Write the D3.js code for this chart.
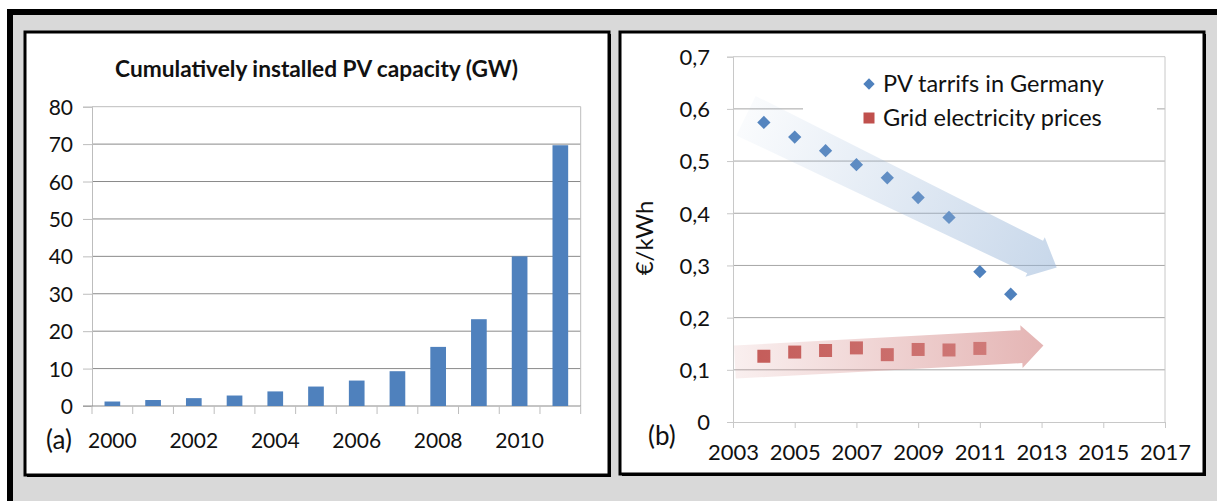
<!DOCTYPE html>
<html>
<head>
<meta charset="utf-8">
<script src="https://cdn.jsdelivr.net/npm/d3@7"></script>
<style>
  html, body { margin: 0; padding: 0; background: #ffffff; }
  svg { display: block; }
  text { font-family: Lato, "Open Sans", "Liberation Sans", sans-serif; fill: #111; }
</style>
</head>
<body>
<svg id="chart" width="1217" height="501"></svg>
<script>
// ---------------- DATA ----------------
const capacityYears = ["2000","2001","2002","2003","2004","2005","2006","2007","2008","2009","2010","2011"];
const capacityGW    = [1.2, 1.6, 2.1, 2.8, 3.9, 5.2, 6.8, 9.3, 15.8, 23.2, 40.0, 69.7];
const capacityTicks = [0, 10, 20, 30, 40, 50, 60, 70, 80];
const capacityTitle = "Cumulatively installed PV capacity (GW)";

const tariffYears   = [2004, 2005, 2006, 2007, 2008, 2009, 2010, 2011, 2012];
const pvTariffs     = [0.574, 0.546, 0.520, 0.493, 0.468, 0.430, 0.392, 0.288, 0.245];
const gridYears     = [2004, 2005, 2006, 2007, 2008, 2009, 2010, 2011];
const gridPrices    = [0.126, 0.134, 0.137, 0.142, 0.129, 0.139, 0.138, 0.141];
const priceTicks    = [0, 0.1, 0.2, 0.3, 0.4, 0.5, 0.6, 0.7];
const yearTicks     = [2003, 2005, 2007, 2009, 2011, 2013, 2015, 2017];
const seriesNames   = ["PV tarrifs in Germany", "Grid electricity prices"];
const yTitleB       = "€/kWh";
// trend arrows, in data units: [startYear, startValue, tipYear, tipValue]
const pvTrend   = [2003.42, 0.587, 2013.49, 0.296];
const gridTrend = [2003.06, 0.1148, 2013.06, 0.1467];

// ---------------- SETUP ----------------
const svg = d3.select("#chart");
const BLUE = "#4f81bd", RED = "#c0504d";
const locale = d3.formatLocale({decimal: ",", thousands: ".", grouping: [3], currency: ["", "€"]});
const fmtB = locale.format(".1~f");

function fitText(sel, target) {
  const w = sel.node().getComputedTextLength();
  const fs = parseFloat(sel.attr("font-size"));
  if (w > 0) sel.attr("font-size", fs * target / w);
  return sel;
}

// background frame
svg.append("rect").attr("x", 7).attr("y", 9).attr("width", 1300).attr("height", 600).attr("fill", "#d9d9d9");
svg.append("rect").attr("x", 7).attr("y", 9).attr("width", 1210).attr("height", 6).attr("fill", "#000");
svg.append("rect").attr("x", 7).attr("y", 9).attr("width", 6).attr("height", 500).attr("fill", "#000");

function panel(x0, y0, x1, y1) {
  svg.append("rect").attr("x", x0 + 2).attr("y", y0 + 2).attr("width", x1 - x0).attr("height", y1 - y0).attr("fill", "#000");
  svg.append("rect").attr("x", x0).attr("y", y0).attr("width", x1 - x0).attr("height", y1 - y0)
    .attr("fill", "#fff").attr("stroke", "#000").attr("stroke-width", 3);
}
panel(25, 32, 609, 475);
panel(620, 32, 1204, 474);

// ---------------- CHART A ----------------
{
  const L = 92, R = 580.7, T = 106.7, B = 406;
  const x = d3.scaleBand().domain(capacityYears).range([L, R]).paddingInner(0.615).paddingOuter(0.3075);
  const y = d3.scaleLinear().domain([0, 80]).range([B, T]);
  const g = svg.append("g");

  // gridlines
  g.selectAll("line.grid").data(capacityTicks.filter(d => d > 0 && d < 80)).join("line")
    .attr("x1", L).attr("x2", R).attr("y1", d => y(d)).attr("y2", d => y(d))
    .attr("stroke", "#8a8a8a").attr("stroke-width", 1);
  // plot border (top/right)
  g.append("path").attr("d", `M${L},${y(80)}H${R}V${B}`).attr("fill", "none").attr("stroke", "#bdbdbd");

  // y axis
  const yAx = g.append("g").attr("transform", `translate(${L},0)`)
    .call(d3.axisLeft(y).tickValues(capacityTicks).tickSize(9).tickPadding(10));
  yAx.select(".domain").attr("stroke", "#bdbdbd");
  yAx.selectAll(".tick line").attr("stroke", "#bdbdbd");
  yAx.selectAll(".tick text").attr("font-size", 21).attr("font-family", "Lato").attr("fill", "#111").attr("dy", "0.36em");

  // x axis line + boundary ticks
  g.append("line").attr("x1", L - 9).attr("x2", R).attr("y1", B).attr("y2", B).attr("stroke", "#8a8a8a");
  const bounds = d3.range(capacityYears.length + 1).map(i => L + i * x.step());
  g.selectAll("line.xt").data(bounds).join("line")
    .attr("x1", d => d).attr("x2", d => d).attr("y1", B).attr("y2", B + 8).attr("stroke", "#bdbdbd");
  g.selectAll("text.xl").data(capacityYears.filter((d, i) => i % 2 === 0)).join("text")
    .attr("x", d => x(d) + x.bandwidth() / 2).attr("y", 448)
    .attr("text-anchor", "middle").attr("font-size", 21).text(d => d);

  // bars
  g.selectAll("rect.bar").data(capacityYears).join("rect")
    .attr("x", d => x(d)).attr("width", x.bandwidth())
    .attr("y", (d, i) => y(capacityGW[i])).attr("height", (d, i) => B - y(capacityGW[i]))
    .attr("fill", BLUE);

  // title
  const t = svg.append("text").attr("x", 316.5).attr("y", 77).attr("text-anchor", "middle")
    .attr("font-weight", "bold").attr("font-size", 18).text(capacityTitle);
  fitText(t, 403);
  svg.append("text").attr("x", 46).attr("y", 449).attr("font-size", 26).text("(a)");
}

// ---------------- CHART B ----------------
{
  const L = 733, R = 1165, T = 56.7, B = 422;
  const x = d3.scaleLinear().domain([2003, 2017]).range([L, R]);
  const y = d3.scaleLinear().domain([0, 0.7]).range([B, T]);
  const g = svg.append("g");

  g.selectAll("line.grid").data(priceTicks.filter(d => d > 0 && d < 0.7)).join("line")
    .attr("x1", L).attr("x2", R).attr("y1", d => y(d)).attr("y2", d => y(d))
    .attr("stroke", "#a6a6a6").attr("stroke-width", 1);
  g.append("path").attr("d", `M${L},${y(0.7)}H${R}V${B}`).attr("fill", "none").attr("stroke", "#c8c8c8");

  const yAx = g.append("g").attr("transform", `translate(${L},0)`)
    .call(d3.axisLeft(y).tickValues(priceTicks).tickSize(6).tickFormat(fmtB).tickPadding(17));
  yAx.select(".domain").attr("stroke", "#c8c8c8");
  yAx.selectAll(".tick line").attr("stroke", "#c8c8c8");
  yAx.selectAll(".tick text").attr("font-size", 22).attr("font-family", "Lato").attr("fill", "#111").attr("dy", "0.36em");

  const xAx = g.append("g").attr("transform", `translate(0,${B})`)
    .call(d3.axisBottom(x).tickValues(yearTicks).tickSize(6).tickFormat(d3.format("d")).tickPadding(16));
  xAx.select(".domain").attr("stroke", "#c8c8c8");
  xAx.selectAll(".tick line").attr("stroke", "#c8c8c8");
  xAx.selectAll(".tick text").attr("font-size", 22).attr("font-family", "Lato").attr("fill", "#111");

  // markers
  const diamond = d3.symbol().type(d3.symbolSquare).size(88);
  g.selectAll("path.pv").data(tariffYears).join("path")
    .attr("d", diamond)
    .attr("transform", (d, i) => `translate(${x(d)},${y(pvTariffs[i])}) rotate(45)`)
    .attr("fill", BLUE);
  g.selectAll("rect.grid").data(gridYears).join("rect")
    .attr("x", d => x(d) - 6.5).attr("y", (d, i) => y(gridPrices[i]) - 6.5)
    .attr("width", 13).attr("height", 13).attr("fill", RED);

  // legend
  const lg = g.append("g");
  lg.append("rect").attr("x", 803).attr("y", 66).attr("width", 354).attr("height", 68).attr("fill", "#fff");
  lg.append("path").attr("d", d3.symbol().type(d3.symbolSquare).size(64))
    .attr("transform", "translate(869,84) rotate(45)").attr("fill", BLUE);
  lg.append("rect").attr("x", 863.5).attr("y", 112.5).attr("width", 11).attr("height", 11).attr("fill", RED);
  const l1 = lg.append("text").attr("x", 883).attr("y", 92).attr("font-size", 21).text(seriesNames[0]);
  fitText(l1, 221);
  const l2 = lg.append("text").attr("x", 883).attr("y", 126).attr("font-size", 21).text(seriesNames[1]);
  fitText(l2, 219);

  // trend arrows (drawn over the markers, semi-transparent)
  const defs = svg.append("defs");
  function arrow(tr, color, op0, op1, hw0, hw1, headHW, headLen, id) {
    const sx = x(tr[0]), sy = y(tr[1]), tx = x(tr[2]), ty = y(tr[3]);
    const dx = tx - sx, dy = ty - sy, len = Math.hypot(dx, dy);
    const ux = dx / len, uy = dy / len, nx = -uy, ny = ux;
    const bx = tx - ux * headLen, by = ty - uy * headLen;
    const pts = [
      [sx + nx * hw0, sy + ny * hw0],
      [bx + nx * hw1, by + ny * hw1],
      [bx + nx * headHW, by + ny * headHW],
      [tx, ty],
      [bx - nx * headHW, by - ny * headHW],
      [bx - nx * hw1, by - ny * hw1],
      [sx - nx * hw0, sy - ny * hw0]
    ];
    const grad = defs.append("linearGradient").attr("id", id).attr("gradientUnits", "userSpaceOnUse")
      .attr("x1", sx).attr("y1", sy).attr("x2", tx).attr("y2", ty);
    grad.append("stop").attr("offset", 0).attr("stop-color", color).attr("stop-opacity", op0);
    grad.append("stop").attr("offset", 1).attr("stop-color", color).attr("stop-opacity", op1);
    g.append("path").attr("d", "M" + pts.map(p => p.join(",")).join("L") + "Z").attr("fill", `url(#${id})`);
  }
  arrow(pvTrend, "#95b3d7", 0.05, 0.52, 22, 18, 22, 24, "gBlue");
  arrow(gridTrend, "#d99594", 0.15, 0.7, 16.5, 16.5, 21.5, 22, "gRed");

  // axis title and panel label
  svg.append("text").attr("transform", "translate(653,238) rotate(-90)")
    .attr("text-anchor", "middle").attr("font-size", 24).text(yTitleB);
  svg.append("text").attr("x", 648).attr("y", 445).attr("font-size", 26).text("(b)");
}
</script>
</body>
</html>
